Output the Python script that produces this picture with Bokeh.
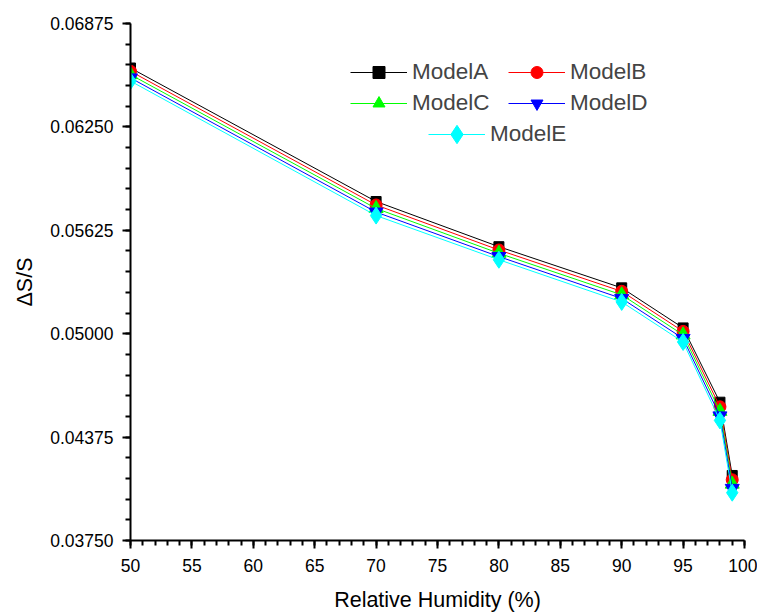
from bokeh.plotting import figure
from bokeh.models import (FixedTicker, PrintfTickFormatter, Legend, LegendItem, Range1d)
from bokeh.embed import file_html
from bokeh.resources import INLINE

humidity = [50, 70, 80, 90, 95, 98, 99]
model_a = [0.06606, 0.05799, 0.05526, 0.05277, 0.05035, 0.04586, 0.04143]
model_b = [0.06586, 0.05778, 0.05506, 0.05256, 0.05014, 0.04558, 0.04117]
model_c = [0.06566, 0.05757, 0.05486, 0.05235, 0.04993, 0.04531, 0.04091]
model_d = [0.06546, 0.05735, 0.05466, 0.05213, 0.04971, 0.04503, 0.04065]
model_e = [0.06527, 0.05714, 0.05447, 0.05192, 0.04950, 0.04476, 0.04039]

x_major = [50, 55, 60, 65, 70, 75, 80, 85, 90, 95, 100]
x_minor = list(range(50, 101))
y_major = [0.0375, 0.04375, 0.05, 0.05625, 0.0625, 0.06875]
y_minor = [0.0375 + 0.00125 * i for i in range(26)]

FONT = "Liberation Sans"

p = figure(width=757, height=616, output_backend="svg", toolbar_location=None,
           x_range=Range1d(50, 100), y_range=Range1d(0.0375, 0.06875),
           min_border_left=130, min_border_right=13, min_border_top=23, min_border_bottom=76)
p.outline_line_color = None
p.xgrid.visible = False
p.ygrid.visible = False

series = [
    ("ModelA", model_a, "black", "square", 10),
    ("ModelB", model_b, "red", "circle", 12),
    ("ModelC", model_c, "lime", "triangle", 14),
    ("ModelD", model_d, "blue", "inverted_triangle", 14),
    ("ModelE", model_e, "cyan", "diamond", 17),
]
items = {}
for name, ys, col, mk, sz in series:
    l = p.line(humidity, ys, line_color=col, line_width=1)
    m = p.scatter(humidity, ys, marker=mk, size=sz, fill_color=col, line_color=col)
    items[name] = LegendItem(label=name, renderers=[l, m])

for ax in (p.xaxis[0], p.yaxis[0]):
    ax.axis_line_width = 2
    ax.major_tick_line_width = 2
    ax.minor_tick_line_width = 2
    ax.major_tick_out = 8
    ax.major_tick_in = 0
    ax.minor_tick_out = 5
    ax.minor_tick_in = 0
    ax.major_label_text_font = FONT
    ax.major_label_text_font_size = "17.5px"
    ax.major_label_text_color = "black"
    ax.axis_label_text_font = FONT
    ax.axis_label_text_font_size = "21.5px"
    ax.axis_label_text_font_style = "normal"
    ax.axis_label_text_color = "black"

p.xaxis.ticker = FixedTicker(ticks=x_major, minor_ticks=x_minor)
p.yaxis.ticker = FixedTicker(ticks=y_major, minor_ticks=y_minor)
p.xaxis.formatter = PrintfTickFormatter(format="%d")
p.yaxis.formatter = PrintfTickFormatter(format="%.5f")
p.xaxis.axis_label = "Relative Humidity (%)"
p.yaxis.axis_label = "ΔS/S"
p.xaxis.major_label_standoff = 10
p.xaxis.axis_label_standoff = 13
p.yaxis.major_label_standoff = 9
p.yaxis.axis_label_standoff = 10

def make_legend(its, loc, ncols, gh):
    return Legend(items=its, location=loc, orientation="horizontal", ncols=ncols,
                  border_line_color=None, background_fill_alpha=0, padding=0, margin=0,
                  glyph_width=57, glyph_height=gh, label_height=gh, label_standoff=5,
                  spacing=1, label_width=95, label_text_font=FONT,
                  label_text_font_size="22.5px")

leg1 = make_legend([items["ModelA"], items["ModelB"], items["ModelC"], items["ModelD"]], (220, 422), 2, 30)
leg2 = make_legend([items["ModelE"]], (298, 383), 1, 46)
p.add_layout(leg1)
p.add_layout(leg2)

open("out.html", "w").write(file_html(p, INLINE))
